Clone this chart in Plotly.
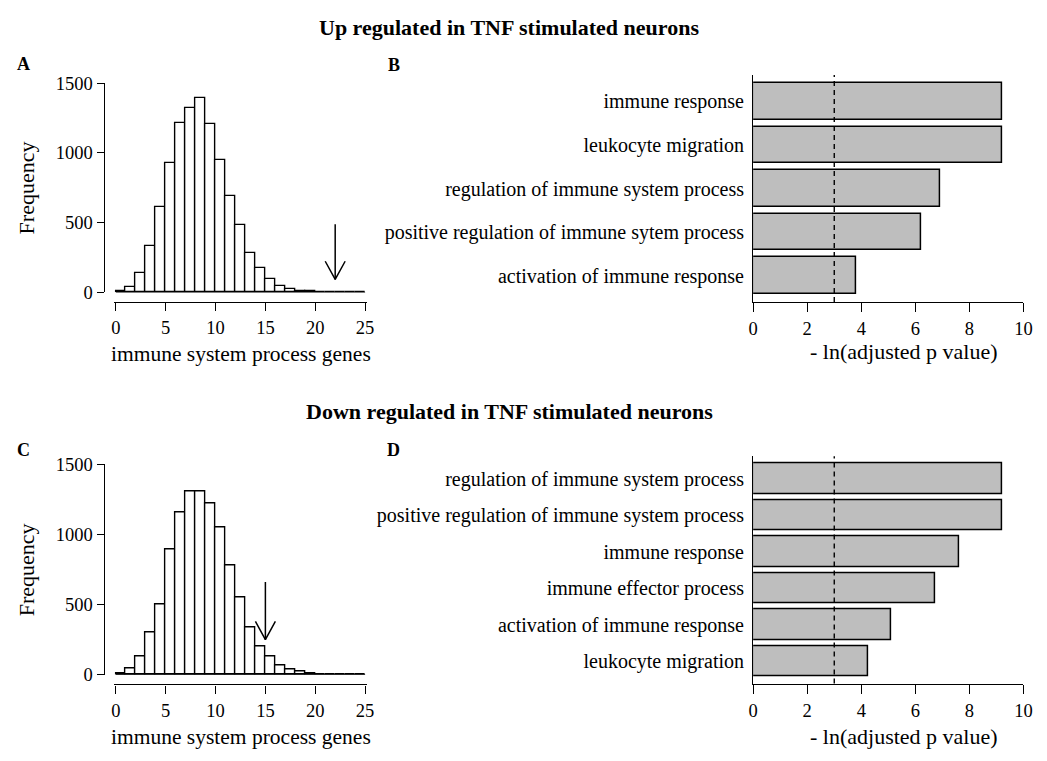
import plotly.graph_objects as go

# ---------------- data ----------------
bin_edges = list(range(0, 26))
up_hist_counts = [12, 40, 140, 335, 612, 930, 1214, 1323, 1391, 1207, 949, 693, 486,
                  279, 177, 95, 44, 21, 12, 7, 2, 0, 0, 0, 0]
down_hist_counts = [12, 46, 134, 304, 502, 893, 1158, 1307, 1307, 1219, 1051, 782, 554,
                    334, 205, 128, 70, 35, 21, 9, 5, 1, 0, 0, 0]
up_arrow = {"x": 22, "top": 488, "tip": 93}
down_arrow = {"x": 15, "top": 662, "tip": 250}

up_terms = ["immune response", "leukocyte migration", "regulation of immune system process",
            "positive regulation of immune sytem process", "activation of immune response"]
up_values = [9.2, 9.2, 6.91, 6.23, 3.80]
down_terms = ["regulation of immune system process",
              "positive regulation of immune system process", "immune response",
              "immune effector process", "activation of immune response", "leukocyte migration"]
down_values = [9.2, 9.2, 7.61, 6.73, 5.12, 4.27]
cutoff = 3

hist_xticks = [0, 5, 10, 15, 20, 25]
hist_yticks = [0, 500, 1000, 1500]
bar_xticks = [0, 2, 4, 6, 8, 10]

# ---------------- layout helpers ----------------
W, H = 1047, 761
def px(x):
    return x / W
def py(y):
    return 1 - y / H

FONT = "Liberation Serif, Times New Roman, serif"
TICKF = dict(family=FONT, size=18.5, color="black")

fig = go.Figure()

centers = [(bin_edges[i] + bin_edges[i + 1]) / 2 for i in range(len(bin_edges) - 1)]

def add_hist(counts, arrow, xa, ya):
    fig.add_trace(go.Bar(x=centers, y=counts, width=1, xaxis=xa, yaxis=ya,
                         marker=dict(color="white", line=dict(color="black", width=1.4)),
                         showlegend=False, hoverinfo="x+y"))
    # zero-count bins drawn as baseline like R hist
    fig.add_trace(go.Scatter(x=[bin_edges[0], bin_edges[-1]], y=[0, 0], mode="lines",
                             line=dict(color="black", width=1.4), xaxis=xa, yaxis=ya,
                             showlegend=False, hoverinfo="skip"))
    hw, hl = 1.0, 130
    ax_, at, tp = arrow["x"], arrow["top"], arrow["tip"]
    fig.add_trace(go.Scatter(x=[ax_, ax_, None, ax_ - hw, ax_, ax_ + hw],
                             y=[at, tp, None, tp + hl, tp, tp + hl], mode="lines",
                             line=dict(color="black", width=1.5), xaxis=xa, yaxis=ya,
                             showlegend=False, hoverinfo="skip"))

def add_bars(terms, values, xa, ya):
    idx = list(range(len(terms)))
    fig.add_trace(go.Bar(x=values, y=idx, orientation="h", width=1 / 1.2, xaxis=xa, yaxis=ya,
                         marker=dict(color="#bebebe", line=dict(color="black", width=1.5)),
                         showlegend=False, hovertext=terms, hoverinfo="text+x"))

add_hist(up_hist_counts, up_arrow, "x", "y")
add_bars(up_terms, up_values, "x2", "y2")
add_hist(down_hist_counts, down_arrow, "x3", "y3")
add_bars(down_terms, down_values, "x4", "y4")

def hist_axes(top_px, zero_px, xaxis_px):
    scale = (zero_px - top_px) / 1500.0
    ext = 8
    xa = dict(domain=[px(112.3 - 1.5), px(365 + 1.5)], range=[-0.15, 25.15],
              anchor="free", position=py(xaxis_px), showline=True, linecolor="black",
              linewidth=1.3, ticks="outside", ticklen=8, tickwidth=1.3, tickcolor="black",
              tickvals=hist_xticks, tickfont=TICKF, showgrid=False, zeroline=False,
              ticklabelstandoff=1)
    ya = dict(domain=[py(zero_px), py(top_px)], range=[0, 1500],
              anchor="free", position=px(100), showline=True, linecolor="black",
              linewidth=1.3, ticks="outside", ticklen=7, tickwidth=1.3, tickcolor="black",
              tickvals=hist_yticks, tickfont=TICKF, showgrid=False, zeroline=False)
    return xa, ya

def bar_axes(top_px, bottom_px, n, terms):
    xa = dict(domain=[px(758.3), px(1032.3)], range=[0, 10], showline=True,
              linecolor="black", linewidth=1.3, ticks="outside", ticklen=9, tickwidth=1.3,
              tickcolor="black", tickvals=bar_xticks, tickfont=TICKF, showgrid=False,
              zeroline=False, ticklabelstandoff=1)
    ya = dict(domain=[py(bottom_px), py(top_px)], range=[n - 1 + 0.61, -0.61],
              showline=True, linecolor="black", linewidth=1.3, ticks="",
              tickvals=list(range(n)), ticktext=terms,
              tickfont=dict(family=FONT, size=20, color="black"), showgrid=False,
              zeroline=False, ticklabelstandoff=4)
    return xa, ya

xa1, ya1 = hist_axes(75, 290, 300)
xa3, ya3 = hist_axes(466.7, 682.7, 692.7)
xa2, ya2 = bar_axes(66.7, 300, len(up_terms), up_terms)
xa4, ya4 = bar_axes(458.3, 691.7, len(down_terms), down_terms)
ya2["anchor"] = "x2"; xa2["anchor"] = "y2"
ya4["anchor"] = "x4"; xa4["anchor"] = "y4"

shapes = []
for xr, yr in (("x2", "y2 domain"), ("x4", "y4 domain")):
    shapes.append(dict(type="line", xref=xr, yref=yr, x0=cutoff, x1=cutoff, y0=0, y1=1,
                       line=dict(color="black", width=1.4, dash="5px,4px"), layer="above"))

ann = []
def text(x, y, s, size, bold=False, angle=0):
    ann.append(dict(x=px(x), y=py(y), xref="paper", yref="paper", text=(f"<b>{s}</b>" if bold else s),
                    showarrow=False, xanchor="center", yanchor="middle", textangle=angle,
                    font=dict(family=FONT, size=size, color="black")))

text(511, 18, "Up regulated in TNF stimulated neurons", 22, bold=True)
text(511, 412, "Down regulated in TNF stimulated neurons", 22, bold=True)
text(18.5, 55, "A", 18, bold=True)
text(394, 56, "B", 18, bold=True)
text(18.5, 452, "C", 18, bold=True)
text(394, 452, "D", 18, bold=True)
text(22, 182.5, "Frequency", 22, angle=-90)
text(22, 574.7, "Frequency", 22, angle=-90)
text(239, 353, "immune system process genes", 21.5)
text(239, 747, "immune system process genes", 21.5)
text(911, 351, "- ln(adjusted p value)", 22)
text(911, 746, "- ln(adjusted p value)", 22)

fig.update_layout(
    width=W, height=H, margin=dict(l=0, r=0, t=0, b=0),
    paper_bgcolor="white", plot_bgcolor="rgba(0,0,0,0)",
    xaxis=xa1, yaxis=ya1, xaxis2=xa2, yaxis2=ya2, xaxis3=xa3, yaxis3=ya3,
    xaxis4=xa4, yaxis4=ya4, shapes=shapes, annotations=ann, bargap=0,
    font=dict(family=FONT, color="black"),
)
fig.write_html("out.html")
